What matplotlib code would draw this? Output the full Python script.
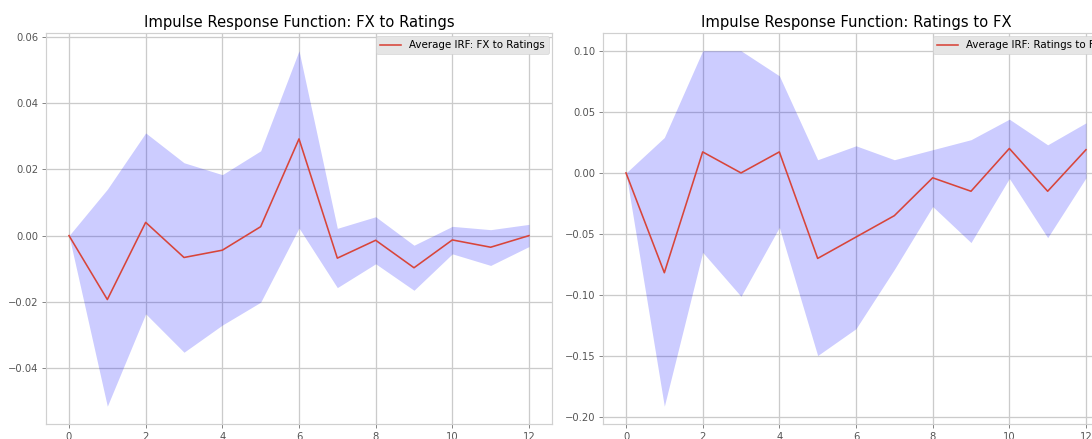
import numpy as np
import matplotlib
matplotlib.use("Agg")
import matplotlib.pyplot as plt

plt.style.use('ggplot')

# horizons
steps = np.arange(13)

# FX shock -> ratings response
irf_fx_rat = [0.0, -0.0193, 0.0040, -0.0066, -0.0044, 0.0027, 0.0292,
              -0.0068, -0.0014, -0.0097, -0.0013, -0.0035, 0.0]
up_fx_rat = [0.0, 0.0140, 0.0310, 0.0220, 0.0184, 0.0256, 0.0558,
             0.0022, 0.0057, -0.0029, 0.0028, 0.0018, 0.0034]
lo_fx_rat = [0.0, -0.0515, -0.0236, -0.0352, -0.0270, -0.0201, 0.0023,
             -0.0157, -0.0085, -0.0165, -0.0055, -0.0090, -0.0033]

# ratings shock -> FX response
irf_rat_fx = [0.0, -0.0817, 0.0172, 0.0, 0.0172, -0.0700, -0.0525,
              -0.0350, -0.0040, -0.0150, 0.0200, -0.0150, 0.0190]
up_rat_fx = [0.0, 0.0290, 0.1000, 0.1000, 0.0795, 0.0108, 0.0222,
             0.0108, 0.0190, 0.0272, 0.0440, 0.0230, 0.0410]
lo_rat_fx = [0.0, -0.1910, -0.0650, -0.1010, -0.0445, -0.1495, -0.1275,
             -0.0790, -0.0275, -0.0570, -0.0045, -0.0530, -0.0040]

W, H = 1092, 439
fig = plt.figure(figsize=(W / 72, H / 72), dpi=72, facecolor='white')

panels = [
    (46, irf_fx_rat, up_fx_rat, lo_fx_rat, 'Impulse Response Function: FX to Ratings',
     'Average IRF: FX to Ratings', [-0.04, -0.02, 0.0, 0.02, 0.04, 0.06]),
    (603, irf_rat_fx, up_rat_fx, lo_rat_fx, 'Impulse Response Function: Ratings to FX',
     'Average IRF: Ratings to FX', [-0.20, -0.15, -0.10, -0.05, 0.0, 0.05, 0.10]),
]

for left, irf, up, lo, title, lab, yt in panels:
    ax = fig.add_axes([left / W, (H - 424) / H, 506 / W, 391 / H])
    ax.set_facecolor('white')
    ax.fill_between(steps, lo, up, color='blue', alpha=0.2, linewidth=0)
    ax.plot(steps, irf, color='#D8453A', lw=1.6, label=lab)
    ax.set_title(title, fontsize=14.8, color='black', pad=6)
    ax.set_xticks([0, 2, 4, 6, 8, 10, 12])
    ax.set_yticks(yt)
    ax.grid(True, color='#cbcbcb', linewidth=1.3)
    for s in ax.spines.values():
        s.set_visible(True)
        s.set_color('#d0d0d0')
        s.set_linewidth(1.2)
    ax.tick_params(colors='#555555', labelsize=10, length=4, width=1)
    ax.tick_params(axis='both', color='#888888')
    leg = ax.legend(loc='upper right', fontsize=10.3, facecolor='#E5E5E5',
                    edgecolor='#cccccc', framealpha=1, borderaxespad=0.3)

fig.savefig('out.png', dpi=72, facecolor='white')
